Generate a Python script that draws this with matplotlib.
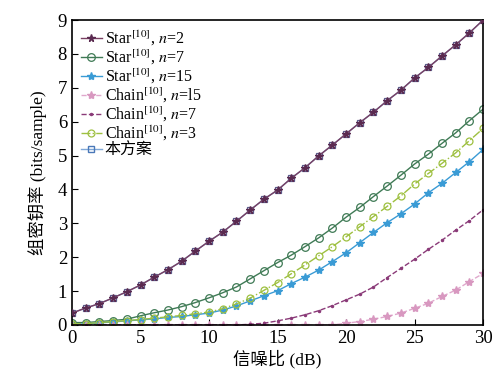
import numpy as np
import matplotlib
matplotlib.use('Agg')
import matplotlib.pyplot as plt

plt.rcParams['font.family'] = ['Liberation Serif', 'Noto Sans CJK SC']
plt.rcParams['mathtext.fontset'] = 'stix'

snr = np.arange(0, 31, 1)

star_n2 = [0.35, 0.5, 0.63, 0.8, 0.98, 1.18, 1.41, 1.63, 1.88, 2.18, 2.47, 2.74, 3.06, 3.39, 3.71,
           3.98, 4.33, 4.64, 4.99, 5.31, 5.64, 5.97, 6.28, 6.62, 6.93, 7.29, 7.60, 7.94, 8.27, 8.62, 9.0]
star_n7 = [0.07, 0.07, 0.1, 0.13, 0.17, 0.27, 0.36, 0.44, 0.54, 0.66, 0.8, 0.95, 1.12, 1.36, 1.6,
           1.84, 2.06, 2.31, 2.57, 2.86, 3.18, 3.47, 3.79, 4.1, 4.42, 4.75, 5.04, 5.36, 5.67, 6.03, 6.37]
star_n15 = [0.02, 0.03, 0.06, 0.09, 0.12, 0.15, 0.18, 0.22, 0.25, 0.3, 0.35, 0.44, 0.56, 0.71, 0.86,
            1.01, 1.22, 1.41, 1.62, 1.87, 2.13, 2.43, 2.73, 3.02, 3.28, 3.57, 3.9, 4.18, 4.5, 4.82, 5.18]
chain_n15 = [0]*20 + [0.05, 0.1, 0.17, 0.25, 0.35, 0.49, 0.64, 0.84, 1.03, 1.28, 1.52]
chain_n7 = [0]*13 + [0.02, 0.05, 0.12, 0.2, 0.3, 0.42, 0.57, 0.74, 0.91, 1.12, 1.4, 1.67, 1.94,
                     2.23, 2.5, 2.8, 3.08, 3.4]
chain_n3 = [0.03, 0.04, 0.07, 0.1, 0.13, 0.16, 0.2, 0.24, 0.28, 0.33, 0.38, 0.48, 0.62, 0.79, 1.02,
            1.25, 1.51, 1.77, 2.04, 2.31, 2.6, 2.9, 3.2, 3.5, 3.81, 4.16, 4.47, 4.77, 5.08, 5.44, 5.8]
ours = star_n2

fig = plt.figure(figsize=(4.94, 3.85), dpi=100)
ax = fig.add_axes([0.1457, 0.156, 0.8323, 0.792])

ax.plot(snr, ours, c='#6f93c8', lw=1, marker='s', ms=5, mfc='none', mec='#5a5a8a', mew=0.9, zorder=2)
ax.plot(snr, star_n2, c='#7a4062', lw=1, marker='*', ms=5.5, mec='#5a2a50', mfc='#5a2a50', label='Star$^{[10]}$, $n$=2', zorder=3)
ax.plot(snr, star_n7, c='#3f7a55', lw=1, marker='o', ms=5.5, mfc='none', mec='#3f7a55', mew=0.9, label='Star$^{[10]}$, $n$=7')
ax.plot(snr, star_n15, c='#3a9bd5', lw=1, marker='*', ms=6, mec='#3a9bd5', mfc='#3a9bd5', label='Star$^{[10]}$, $n$=15')
ax.plot(snr, chain_n15, c='#e0a8cc', lw=1, ls='--', marker='*', ms=6, mec='#d898c0', mfc='#d898c0', label='Chain$^{[10]}$, $n$=l5')
ax.plot(snr, chain_n7, c='#8a3a78', lw=1, ls='--', marker='.', ms=3, label='Chain$^{[10]}$, $n$=7')
ax.plot(snr, chain_n3, c='#9ec040', lw=1, ls='-.', marker='o', ms=5, mfc='none', mec='#9ec040', mew=0.9, label='Chain$^{[10]}$, $n$=3')
ax.plot([], [], c='#7fa8d8', lw=1, marker='s', ms=5, mfc='none', mec='#4a78b8', label='本方案')

ax.set_xlim(0, 30)
ax.set_ylim(0, 9)
ax.set_xticks([0, 5, 10, 15, 20, 25, 30])
ax.set_yticks(range(0, 10))
ax.tick_params(direction='in', labelsize=13.5, length=4, top=False, right=False)
ax.set_xlabel('信噪比 (dB)', fontsize=12.5, labelpad=2)
ax.set_ylabel('组密钥率 (bits/sample)', fontsize=12.5, labelpad=8)
for s in ax.spines.values():
    s.set_linewidth(1.2)

ax.legend(loc='upper left', frameon=False, fontsize=11.5, handlelength=1.3, handletextpad=0.2,
          labelspacing=0.0, borderaxespad=0.2, borderpad=0.35)

plt.savefig('out.png', dpi=100)
